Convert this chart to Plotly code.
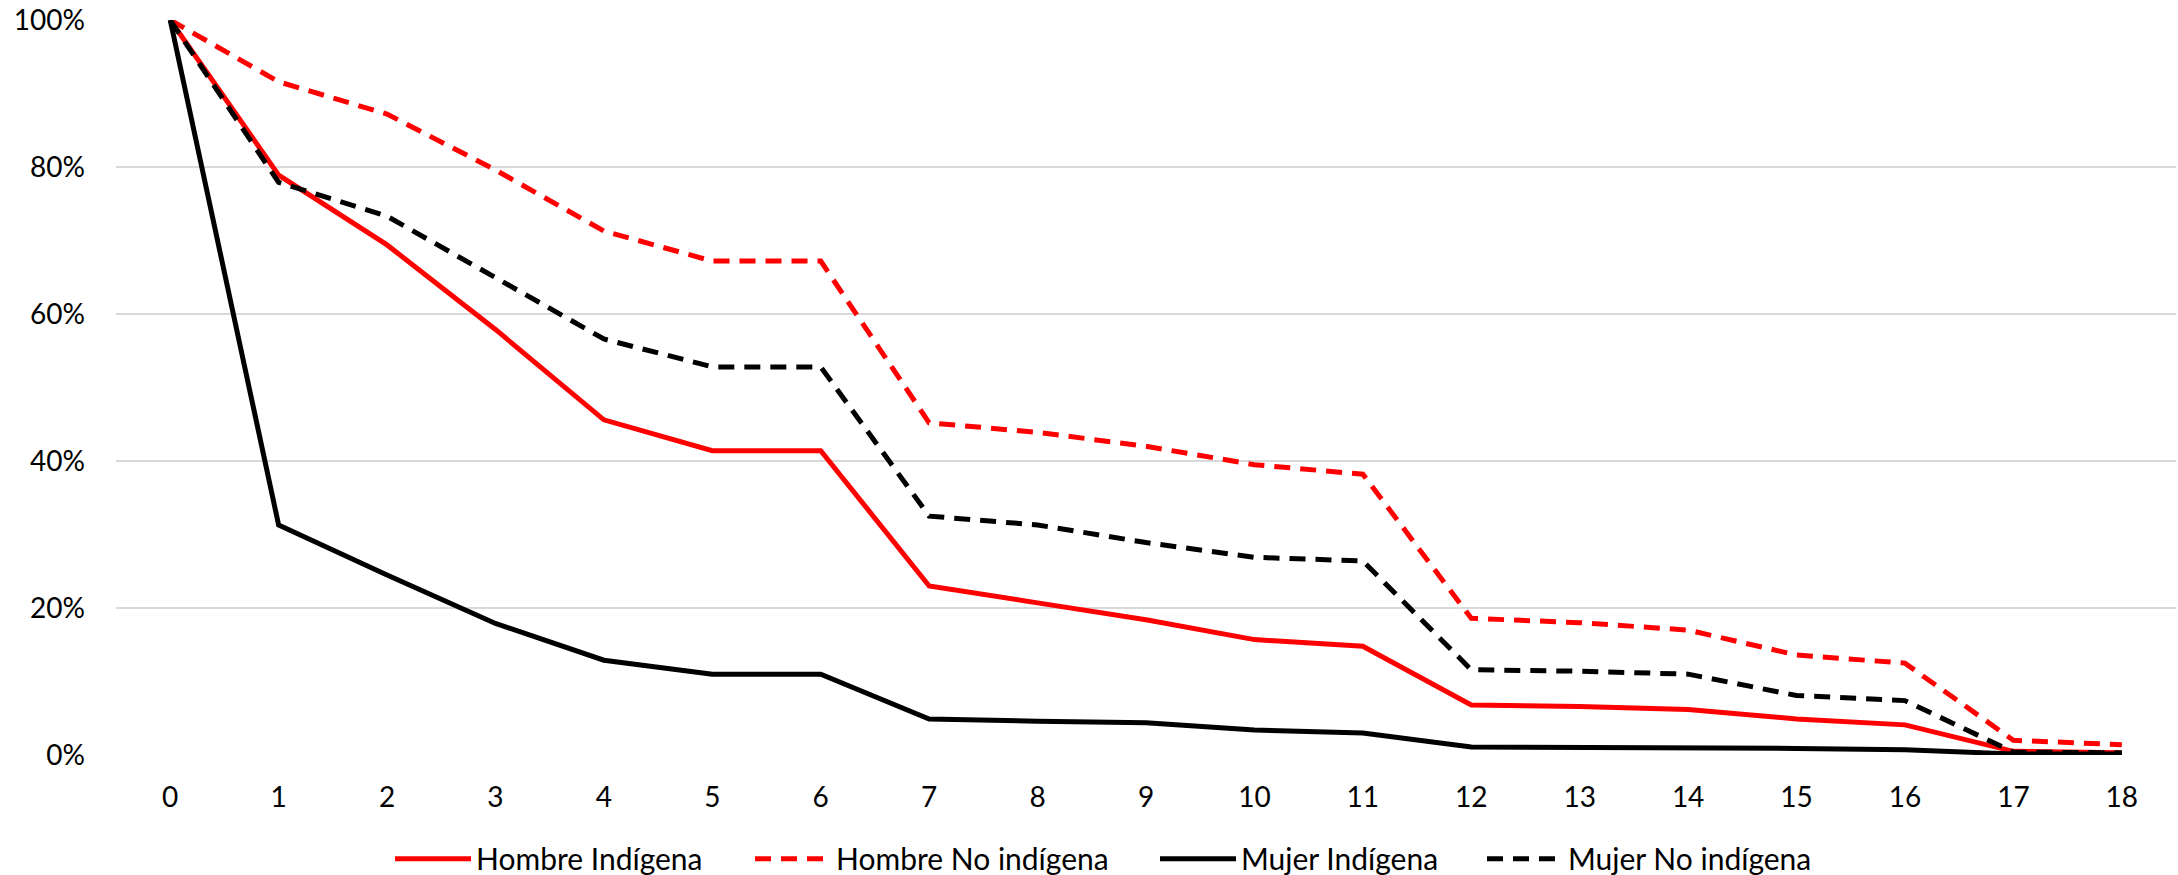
import plotly.graph_objects as go

categories = [str(i) for i in range(19)]
hombre_indigena = [100, 78.9, 69.4, 57.9, 45.6, 41.4, 41.4, 23.0, 20.7, 18.4, 15.7, 14.8, 6.8, 6.6, 6.2, 4.9, 4.1, 0.5, 0.3]
hombre_no_indigena = [100, 91.6, 87.2, 79.6, 71.3, 67.2, 67.2, 45.2, 43.9, 42.0, 39.5, 38.2, 18.6, 18.0, 17.0, 13.6, 12.5, 2.0, 1.4]
mujer_indigena = [100, 31.3, 24.5, 17.9, 12.9, 11.0, 11.0, 4.9, 4.6, 4.4, 3.4, 3.0, 1.1, 1.05, 1.0, 0.9, 0.7, 0.15, 0.15]
mujer_no_indigena = [100, 77.9, 73.3, 65.0, 56.6, 52.8, 52.8, 32.5, 31.3, 28.9, 26.9, 26.4, 11.6, 11.4, 11.0, 8.1, 7.4, 0.4, 0.3]
y_ticks = [0, 0.2, 0.4, 0.6, 0.8, 1.0]

series = [
    ("Hombre Indígena", hombre_indigena, "#FF0000", "solid"),
    ("Hombre No indígena", hombre_no_indigena, "#FF0000", "16px,10px"),
    ("Mujer Indígena", mujer_indigena, "#000000", "solid"),
    ("Mujer No indígena", mujer_no_indigena, "#000000", "16px,10px"),
]

PLOT_L, PLOT_W = 116, 2060
legend_names = ["legend", "legend2", "legend3", "legend4"]
legend_px = [390, 750, 1155, 1482]
legend_x = [(p - PLOT_L) / PLOT_W for p in legend_px]

fig = go.Figure()
for (name, vals, color, dash), lg in zip(series, legend_names):
    fig.add_trace(go.Scatter(
        x=categories, y=[v / 100 for v in vals], name=name, mode="lines",
        line=dict(color=color, width=5, dash=dash),
        hoverinfo="skip", legend=lg,
    ))

font_family = "Lato, 'Open Sans', sans-serif"
legend_common = dict(orientation="h", xanchor="left", y=-0.141, yanchor="middle",
                     font=dict(size=30), itemwidth=76, bgcolor="rgba(0,0,0,0)")
layout_legends = {lg: dict(x=lx, **legend_common) for lg, lx in zip(legend_names, legend_x)}

fig.update_layout(
    width=2178, height=875,
    margin=dict(l=PLOT_L, r=2, t=20, b=120, autoexpand=False),
    paper_bgcolor="white", plot_bgcolor="white",
    font=dict(family=font_family, size=28, color="#000000"),
    showlegend=True,
    xaxis=dict(type="category", range=[-0.5, 18.5], showgrid=False, zeroline=False,
               showline=False, ticks="", ticklabelstandoff=23, automargin=False,
               tickfont=dict(size=28)),
    yaxis=dict(range=[0, 1.0], tickvals=y_ticks, tickformat=".0%",
               showgrid=True, gridcolor="#D9D9D9", gridwidth=1.5, automargin=False,
               zeroline=False, showline=False, ticks="", ticklabelstandoff=30,
               tickfont=dict(size=28)),
    **layout_legends,
)
fig.write_html("out.html", config={"displayModeBar": False},
               post_script="document.body.style.margin='0';")
